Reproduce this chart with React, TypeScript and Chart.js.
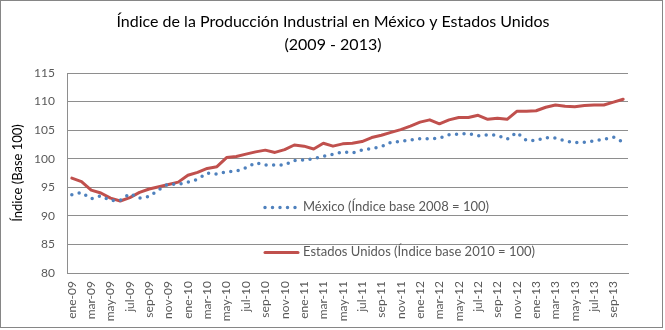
import React, { useEffect, useRef } from 'react';
import { Chart, registerables } from 'chart.js';

Chart.register(...registerables);

const categories: string[] = [
  'ene-09', 'feb-09', 'mar-09', 'abr-09', 'may-09', 'jun-09', 'jul-09', 'ago-09', 'sep-09', 'oct-09', 'nov-09', 'dic-09',
  'ene-10', 'feb-10', 'mar-10', 'abr-10', 'may-10', 'jun-10', 'jul-10', 'ago-10', 'sep-10', 'oct-10', 'nov-10', 'dic-10',
  'ene-11', 'feb-11', 'mar-11', 'abr-11', 'may-11', 'jun-11', 'jul-11', 'ago-11', 'sep-11', 'oct-11', 'nov-11', 'dic-11',
  'ene-12', 'feb-12', 'mar-12', 'abr-12', 'may-12', 'jun-12', 'jul-12', 'ago-12', 'sep-12', 'oct-12', 'nov-12', 'dic-12',
  'ene-13', 'feb-13', 'mar-13', 'abr-13', 'may-13', 'jun-13', 'jul-13', 'ago-13', 'sep-13', 'oct-13',
];

const mexico: number[] = [
  93.7, 94.1, 93.0, 93.5, 92.7, 92.7, 93.9, 93.1, 93.4, 94.6, 95.6, 95.5,
  95.9, 96.4, 97.5, 97.3, 97.7, 97.8, 98.4, 99.3, 98.9, 98.9, 98.9, 99.7,
  99.8, 100.0, 100.4, 100.8, 101.2, 101.0, 101.5, 101.8, 102.1, 102.9, 103.0, 103.3,
  103.5, 103.5, 103.6, 104.2, 104.3, 104.4, 104.0, 104.2, 104.1, 103.4, 104.6, 103.2,
  103.2, 103.7, 103.6, 103.1, 102.8, 102.9, 103.1, 103.4, 103.8, 102.9,
];

const estadosUnidos: number[] = [
  96.6, 96.0, 94.5, 94.0, 93.1, 92.6, 93.2, 94.1, 94.7, 95.1, 95.5, 95.9,
  97.1, 97.6, 98.3, 98.6, 100.2, 100.4, 100.8, 101.2, 101.5, 101.1, 101.6, 102.4,
  102.2, 101.7, 102.7, 102.2, 102.6, 102.7, 103.0, 103.7, 104.1, 104.6, 105.1, 105.7,
  106.4, 106.8, 106.1, 106.8, 107.2, 107.2, 107.6, 106.9, 107.1, 106.9, 108.3, 108.3,
  108.4, 109.0, 109.4, 109.2, 109.1, 109.3, 109.4, 109.4, 109.9, 110.4,
];

const seriesNames: string[] = [
  'México (Índice base 2008 = 100)',
  'Estados Unidos (Índice base 2010 = 100)',
];

const titleLines: string[] = [
  'Índice de la Producción Industrial en México y Estados Unidos',
  '(2009 - 2013)',
];

const yAxisTitle = 'Índice (Base 100)';

const FONT = 'Lato, "Open Sans", sans-serif';
const TEXT_GRAY = '#595959';
const GRID = '#8e8e8e';
const BLUE = '#4f81bd';
const RED = '#c0504d';

const decorPlugin = {
  id: 'decor',
  afterDraw(chart: any) {
    const ctx = chart.ctx as CanvasRenderingContext2D;
    ctx.save();
    // outer border
    ctx.strokeStyle = '#868686';
    ctx.lineWidth = 1;
    ctx.strokeRect(0.5, 0.5, 662, 327);
    // title
    ctx.fillStyle = '#000000';
    ctx.font = `16px ${FONT}`;
    ctx.textAlign = 'center';
    ctx.textBaseline = 'alphabetic';
    ctx.fillText(titleLines[0], 333, 27);
    ctx.fillText(titleLines[1], 333, 50);
    // legend
    const ds = chart.data.datasets;
    const entries = [
      { y: 207, d: ds[0] },
      { y: 252, d: ds[1] },
    ];
    entries.forEach((e) => {
      ctx.save();
      ctx.strokeStyle = e.d.borderColor;
      ctx.lineWidth = e.d.borderWidth;
      ctx.lineCap = e.d.borderCapStyle || 'butt';
      ctx.setLineDash(e.d.borderDash || []);
      ctx.beginPath();
      ctx.moveTo(265, e.y + 0.5);
      ctx.lineTo(298, e.y + 0.5);
      ctx.stroke();
      ctx.restore();
      ctx.fillStyle = TEXT_GRAY;
      ctx.font = `13px ${FONT}`;
      ctx.textAlign = 'left';
      ctx.textBaseline = 'middle';
      ctx.fillText(e.d.label, 303, e.y);
    });
    ctx.restore();
  },
};

export default function App() {
  const canvasRef = useRef<HTMLCanvasElement | null>(null);

  useEffect(() => {
    if (!canvasRef.current) return;
    const chart = new Chart(canvasRef.current, {
      type: 'line',
      data: {
        labels: categories,
        datasets: [
          {
            label: seriesNames[0],
            data: mexico,
            borderColor: BLUE,
            backgroundColor: BLUE,
            borderWidth: 3.5,
            borderDash: [0, 7.5],
            borderCapStyle: 'round',
            pointRadius: 0,
            tension: 0,
            fill: false,
          },
          {
            label: seriesNames[1],
            data: estadosUnidos,
            borderColor: RED,
            backgroundColor: RED,
            borderWidth: 3,
            borderCapStyle: 'round',
            borderJoinStyle: 'round',
            pointRadius: 0,
            tension: 0,
            fill: false,
          },
        ],
      },
      options: {
        responsive: false,
        animation: false,
        layout: { padding: { top: 73, right: 37, bottom: 0, left: 0 } },
        plugins: {
          legend: { display: false },
          title: { display: false },
          tooltip: { enabled: false },
        },
        scales: {
          x: {
            type: 'category',
            offset: true,
            grid: { display: false, drawTicks: false },
            border: { display: true, color: GRID },
            ticks: {
              autoSkip: false,
              maxRotation: 90,
              minRotation: 90,
              padding: 8,
              color: TEXT_GRAY,
              font: { family: FONT, size: 12 },
              callback: (_v: any, i: number) => (i % 2 === 0 ? categories[i] : ''),
            },
            afterFit: (s: any) => {
              s.height = 57;
            },
          },
          y: {
            min: 80,
            max: 115,
            grid: { color: GRID, drawTicks: false },
            border: { display: true, color: GRID },
            ticks: {
              stepSize: 5,
              padding: 12,
              color: TEXT_GRAY,
              font: { family: FONT, size: 12 },
            },
            title: {
              display: true,
              text: yAxisTitle,
              color: '#000000',
              font: { family: FONT, size: 13 },
              padding: { top: 10, bottom: 0 },
            },
            afterFit: (s: any) => {
              s.width = 67;
            },
          },
        },
      },
      plugins: [decorPlugin],
    });
    return () => chart.destroy();
  }, []);

  return (
    <div style={{ position: 'fixed', left: 0, top: 0, width: 665, height: 330, background: '#ffffff' }}>
      <canvas ref={canvasRef} width={665} height={330} style={{ display: 'block' }} />
    </div>
  );
}
